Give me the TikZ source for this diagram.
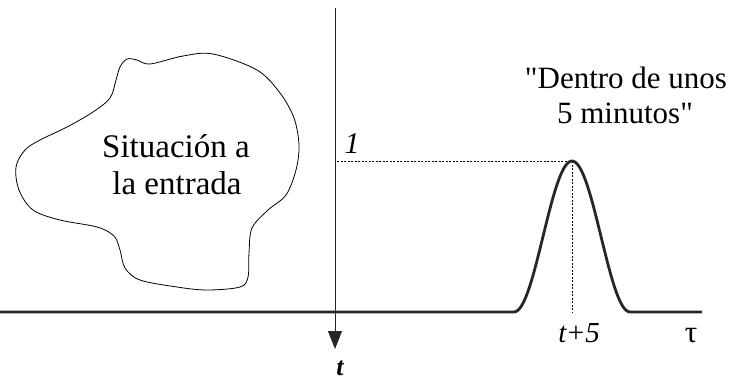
\documentclass[tikz,border=0pt]{standalone}
\usepackage{fontspec}
\setmainfont{Liberation Serif}
\font\dqfont="Liberation Serif" at 31pt
\newcommand{\dq}{{\dqfont\char"22}}
\usetikzlibrary{arrows.meta}
\begin{document}
\begin{tikzpicture}[x=1pt,y=-1pt,
  thinaxis/.style={line width=0.8pt,black!85},
  thickline/.style={line width=2.8pt,black!85,line join=round},
  guide/.style={line width=0.5pt,dash pattern=on 2pt off 1.5pt},
  blob/.style={line width=0.8pt},
  bigtext/.style={font=\fontsize{33}{37}\selectfont,inner sep=0pt,anchor=base},
  midtext/.style={font=\fontsize{31}{35}\selectfont,inner sep=0pt,anchor=base},
  labeltext/.style={font=\fontsize{29}{31}\selectfont,inner sep=0pt,anchor=base}]
\useasboundingbox (0,0) rectangle (735,381);
% blob
\draw[blob] plot[smooth cycle,tension=0.55] coordinates {
 (127,59) (137,60) (150,64) (183,56) (213,54) (257,70) (280,93) (294,118)
 (299,145) (296,170) (286,195) (268,210) (252,228) (249,253) (248,277)
 (240,287) (207,290) (177,287) (140,280) (125,268) (120,250) (114,236)
 (97,227) (60,220) (33,210) (19,190) (16,167) (25,150) (40,140) (67,127)
 (93,112) (110,98) (116,80) (120,67)};
\node[bigtext] (sit1) at (176,157) {Situación a};
\node[bigtext] (sit2) at (177,194) {la entrada};
% coordinates
\coordinate (top) at (335,8);
\coordinate (tip) at (335,349);
\coordinate (left) at (0,312);
\coordinate (pl) at (512,312);
\coordinate (right) at (702,312);
\coordinate (peak) at (572,161);
\coordinate (foot) at (572,312);
\coordinate (yone) at (337,161);
% guides
\draw[guide] (yone) -- (peak);
\draw[guide] (peak) -- (foot);
% baseline and pulse
\draw[thickline] (left) -- (pl)
  -- plot[domain=-58:58,samples=60] ({572+\x},{312-151*cos(180*\x/116)^2})
  -- (right);
% vertical axis
\draw[thinaxis,-{Triangle[length=18pt,width=14pt]}] (top) -- (tip);
% labels
\node[labeltext,font=\itshape\fontsize{30}{32}\selectfont] (one) at (352,153) {1};
\node[labeltext,font=\itshape\bfseries\fontsize{26}{28}\selectfont] (t) at (340,375) {t};
\node[labeltext] (tp5) at (579,342) {\textit{t}\kern1pt+\kern1pt\textit{5}};
\node[labeltext,font=\fontsize{31}{33}\selectfont] (tau) at (691,342) {τ};
\node[midtext] (dentro1) at (626,88) {\dq Dentro de unos};
\node[midtext] (dentro2) at (625,123) {5 minutos\dq};
\end{tikzpicture}
\end{document}
